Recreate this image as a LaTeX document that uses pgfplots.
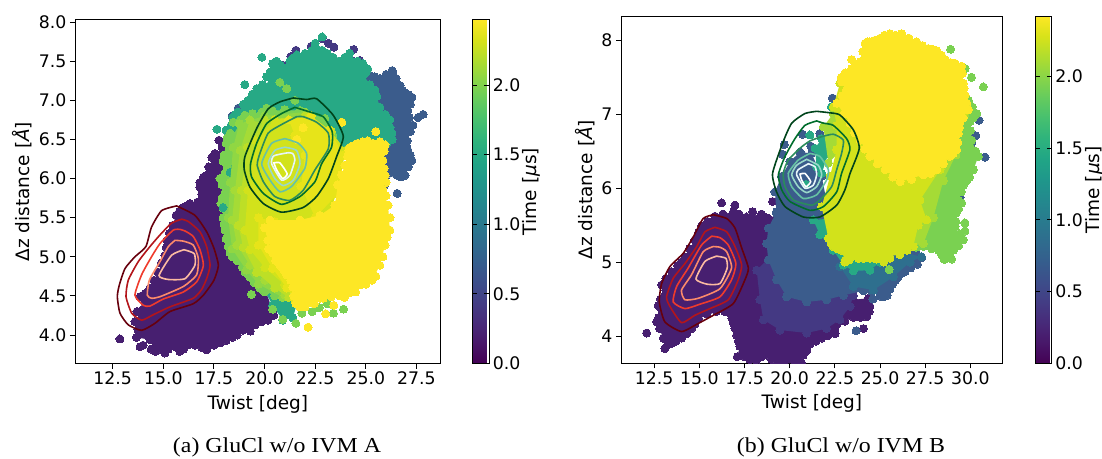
\documentclass[border=0pt]{standalone}
\usepackage{fontspec}
\setmainfont{DejaVu Sans}
\newfontfamily\capfont[FakeStretch=1.12]{Liberation Serif}
\usepackage{pgfplots}
\pgfplotsset{compat=1.18}
\definecolor{vP}{HTML}{471F70}
\definecolor{vI}{HTML}{443983}
\definecolor{vB}{HTML}{3B5C8C}
\definecolor{vM}{HTML}{2E6F8E}
\definecolor{vT}{HTML}{27A985}
\definecolor{vL}{HTML}{7AD151}
\definecolor{vLA}{HTML}{90D743}
\definecolor{vA}{HTML}{A5DB36}
\definecolor{vAC}{HTML}{BDDF26}
\definecolor{vC}{HTML}{D2E21B}
\definecolor{vE}{HTML}{E7E419}
\definecolor{vY}{HTML}{FDE725}
\definecolor{rA}{HTML}{67000D}
\definecolor{rB}{HTML}{B3151B}
\definecolor{rC}{HTML}{EF3B2C}
\definecolor{rD}{HTML}{FC8A6A}
\definecolor{rE}{HTML}{FCBBA1}
\definecolor{gA}{HTML}{00441B}
\definecolor{gB}{HTML}{006D2C}
\definecolor{gC}{HTML}{2A8C5C}
\definecolor{gD}{HTML}{66C2A4}
\definecolor{gE}{HTML}{99D8C9}
\definecolor{gF}{HTML}{E5F5F9}
\newcommand{\blob}[2]{\addplot[draw=none,fill=#1,mark=*,mark size=4pt,mark options={draw=#1,fill=#1,line width=0pt}] coordinates {#2} -- cycle;}
\newcommand{\pts}[2]{\addplot[only marks,mark=*,mark size=4pt,mark options={draw=#1,fill=#1,line width=0pt}] coordinates {#2};}
\newcommand{\cont}[2]{\addplot[draw=#1,line width=1.6pt,mark=none,smooth,tension=0.35] coordinates {#2} -- cycle;}
\newcommand{\tickfont}{\fontsize{17.3}{19}\selectfont}
\newcommand{\labfont}{\fontsize{18.5}{20}\selectfont}
\pgfplotsset{panel/.style={
  scale only axis, clip marker paths=true,
  axis line style={black,line width=0.9pt},
  tick style={black,line width=0.9pt},
  tick align=outside, major tick length=5pt,
  xtick pos=bottom, ytick pos=left,
  tick label style={font=\tickfont},
  label style={font=\labfont},
  /pgf/number format/assume math mode=true,
  /pgf/number format/fixed, /pgf/number format/fixed zerofill, /pgf/number format/precision=1,
  xlabel={Twist [deg]}, ylabel={Δz distance [{\itshape Å}]},
  xlabel style={yshift=-3pt}, ylabel style={yshift=0pt},
  colorbar, colormap/viridis, point meta min=0,
},
cbar/.style={
  ytick={0,0.5,1,1.5,2}, ylabel={Time [{\itshape μ}s]},
  scaled y ticks=false,
  yticklabel style={font=\tickfont,/pgf/number format/assume math mode=true,/pgf/number format/fixed,/pgf/number format/fixed zerofill,/pgf/number format/precision=1},
  ylabel style={font=\labfont,yshift=4.5pt},
  axis line style={black,line width=0.9pt}, tick style={black,line width=0.9pt}, yticklabel pos=right, major tick length=5pt}}
\begin{document}
\begin{tikzpicture}
\path[use as bounding box] (0,0) rectangle (1102pt,458pt);
\begin{axis}[panel, at={(75pt,94.5pt)}, anchor=south west, width=365.7pt, height=343.8pt,
  xmin=10.64, xmax=28.7, ymin=3.636, ymax=8.03,
  xtick={12.5,15,17.5,20,22.5,25,27.5}, ytick={4,4.5,5,5.5,6,6.5,7,7.5,8},
  point meta max=2.47,
  colorbar style={at={(parent axis.north east)},anchor=north west,xshift=23pt,width=17.2pt,height=343.8pt,cbar}]
\blob{vP}{(13.67,3.97)(13.85,4.13)(13.6,4.17)(13.95,4.32)(13.85,4.49)(14.34,4.6)(14.74,4.8)(15.08,5.02)(15.18,5.21)(15.45,5.4)(15.63,5.53)(15.97,5.63)(16.32,5.68)(16.7,5.7)(16.81,5.89)(16.81,5.95)(17.0,6.02)(17.45,6.08)(17.4,6.27)(17.8,6.3)(17.75,6.49)(18.2,6.49)(18.5,5.85)(19.3,5.09)(20.4,4.32)(20.17,4.19)(19.53,4.13)(18.94,4.06)(18.4,3.97)(17.8,3.9)(17.15,3.81)(16.56,3.87)(15.82,3.79)(15.43,3.87)(15.08,3.77)(14.6,3.79)(14.34,3.94)}
\pts{vP}{(12.86,3.95)(13.85,3.85)(14.6,3.83)(16.3,3.88)(16.5,3.88)(17.2,3.85)(19.3,4.05)(20.45,4.25)(13.75,4.07)(13.7,4.3)(14.1,4.53)(14.55,4.7)(14.9,4.92)(15.15,5.12)(15.3,5.3)(15.8,5.58)(16.15,5.65)(16.5,5.63)(16.9,5.8)(17.2,6.05)(17.25,6.15)(17.6,6.2)(17.55,6.32)(17.9,6.4)(14.0,3.87)(14.4,3.82)(14.85,3.82)(15.25,3.82)(15.6,3.85)(16.0,3.82)(16.25,3.88)(16.9,3.84)(17.5,3.87)(18.1,3.93)(18.65,4.0)(19.2,4.08)(19.85,4.17)(20.3,4.26)(19.9,4.35)(20.6,4.45)}
\pts{vI}{(20.9,7.45)(21.3,7.56)(21.55,7.64)(22.3,7.69)(22.84,7.79)(23.15,7.73)(23.43,7.68)(24.4,7.65)(24.3,7.51)(24.7,7.51)(24.0,7.55)}
\blob{vB}{(24.71,7.45)(25.21,7.32)(25.7,7.28)(26.34,7.36)(26.69,7.19)(26.93,7.1)(27.28,7.04)(27.08,6.87)(27.33,6.68)(26.94,6.55)(27.08,6.36)(27.28,6.23)(26.94,6.04)(26.55,6.04)(25.95,6.0)(25.45,6.11)(23.72,6.36)(23.72,7.26)}
\pts{vB}{(27.83,6.82)(27.58,6.78)(26.55,5.81)(25.9,5.9)(26.3,7.38)(18.7,6.9)(18.4,6.8)(25.0,7.38)(25.45,7.3)(26.0,7.33)(26.5,7.28)(26.8,7.13)(27.1,7.07)(27.2,6.95)(27.15,6.78)(27.2,6.6)(27.05,6.48)(27.0,6.42)(27.2,6.3)(27.1,6.15)(26.75,6.02)(26.25,6.1)(26.7,6.16)}
\blob{vT}{(20.42,7.46)(20.27,7.36)(20.37,7.26)(19.62,7.15)(19.18,7.0)(18.68,6.85)(18.44,6.78)(18.2,6.55)(18.15,6.45)(21.75,5.72)(23.72,6.36)(26.05,6.45)(26.29,6.58)(26.19,6.75)(25.7,6.91)(25.45,7.13)(24.86,7.32)(25.1,7.4)(24.86,7.47)(23.97,7.55)(23.38,7.55)(22.84,7.64)(22.5,7.73)(22.84,7.81)(22.34,7.64)(21.4,7.54)(21.1,7.42)}
\pts{vT}{(19.87,7.55)(19.03,7.2)(17.65,6.63)(24.2,7.6)(20.4,7.47)(20.1,7.3)(19.9,7.2)(19.4,7.08)(18.95,6.95)(18.55,6.82)(18.35,6.68)(18.1,6.62)(20.6,7.5)(20.8,7.45)(21.25,7.5)(21.6,7.58)(22.0,7.6)(22.55,7.65)(23.1,7.6)(23.7,7.5)(24.3,7.5)(24.6,7.5)(25.0,7.35)(24.95,7.2)(25.2,7.2)(25.55,7.05)(25.6,6.85)(25.95,6.82)(26.2,6.65)(26.3,6.5)}
\blob{vT}{(19.93,4.6)(20.4,4.38)(20.9,4.19)(21.4,4.22)(21.6,4.4)(21.0,4.6)}
\pts{vL}{(19.35,4.52)(20.4,4.33)(20.9,4.2)(21.55,4.15)(21.85,4.28)(22.35,4.3)(23.4,4.28)(23.9,4.33)(22.7,4.35)(23.1,4.4)}
\blob{vL}{(18.3,6.58)(18.1,6.45)(18.0,6.3)(18.15,6.15)(17.8,6.0)(18.15,5.89)(17.9,5.75)(17.95,5.62)(17.95,5.5)(18.05,5.34)(18.2,5.13)(18.4,5.0)(18.9,4.87)(19.28,4.74)(19.77,4.6)(20.5,4.5)(21.75,5.0)(23.7,6.3)(23.38,6.55)(22.98,6.77)(21.75,6.87)(20.37,6.87)(19.87,6.85)(19.03,6.81)(18.44,6.55)}
\pts{vL}{(18.45,6.72)(20.76,7.23)(21.1,7.15)(18.9,6.7)(21.5,7.0)(18.15,6.52)(17.95,6.22)(18.05,6.07)(17.9,5.92)(18.05,5.82)(17.85,5.68)(18.0,5.42)(18.1,5.23)(18.3,5.05)(18.65,4.95)(19.05,4.8)(19.5,4.67)(20.0,4.55)(18.8,6.75)(19.4,6.83)(20.1,6.9)(21.0,6.88)}
\pts{vT}{(17.95,5.63)(18.3,6.08)(18.55,6.15)}
\blob{vLA}{(18.75,6.7)(18.45,6.4)(18.3,5.95)(18.2,5.5)(18.4,5.1)(19.1,4.83)(19.7,4.65)(20.9,4.48)(21.7,4.6)(23.3,6.6)(22,6.85)(20,6.8)}
\blob{vA}{(19.28,6.75)(18.79,6.36)(18.54,5.85)(18.4,5.47)(18.64,5.15)(19.28,4.89)(20.02,4.7)(21.0,4.51)(21.75,4.57)(23.23,6.62)(22.24,6.77)(20.27,6.68)}
\blob{vAC}{(20,6.75)(19.15,6.4)(18.85,5.85)(18.7,5.4)(18.95,5.12)(19.6,4.8)(20.5,4.6)(21.2,4.48)(22,5)(23.3,6.6)(22,6.8)}
\blob{vC}{(20.5,6.75)(19.53,6.49)(19.18,5.85)(19.03,5.34)(19.28,5.09)(20.02,4.86)(21.0,4.64)(21.5,4.47)(22.74,5.09)(23.72,5.98)(24.0,6.36)(23.23,6.62)(22.24,6.8)}
\blob{vE}{(21.2,6.75)(22.3,6.8)(23.2,6.62)(23.9,6.3)(23.6,5.8)(22.5,5.5)(21.8,5.9)(22.0,6.3)(21.5,6.55)}
\blob{vE}{(19.7,5.5)(19.7,5.15)(20.4,4.85)(21.1,4.6)(21.5,4.45)(21.7,4.9)(20.5,5.45)}
\blob{vY}{(20.27,5.47)(20.0,5.37)(20.17,5.21)(20.4,5.05)(20.76,4.89)(21.1,4.77)(21.4,4.61)(21.6,4.45)(21.75,4.36)(22.24,4.41)(22.74,4.47)(23.08,4.54)(23.72,4.5)(24.22,4.54)(24.71,4.64)(25.3,4.7)(25.7,4.89)(25.95,5.15)(26.19,5.34)(26.1,5.66)(25.85,5.85)(25.95,6.04)(25.85,6.23)(25.6,6.36)(25.95,6.43)(25.35,6.45)(24.86,6.47)(24.6,6.45)(24.22,6.4)(23.97,6.17)(23.62,5.92)(23.47,5.66)(22.74,5.53)(21.75,5.47)}
\pts{vY}{(23.82,6.72)(25.5,6.6)(24.17,6.36)(25.9,6.35)(22.15,4.1)(23.02,4.27)(23.42,4.38)(21.6,6.5)(21.9,6.65)(21.45,4.5)(21.55,4.4)(22.0,4.36)(22.45,4.4)(22.9,4.47)(23.3,4.49)(23.95,4.48)(24.5,4.55)(25.0,4.65)(25.5,4.75)(25.85,5.0)(26.05,5.25)(26.2,5.5)(26.0,5.78)(26.0,5.95)(25.9,6.13)(25.7,6.3)(25.7,6.47)(25.1,6.48)(24.4,6.42)(24.1,6.28)(23.8,6.05)(20.3,5.3)(20.2,5.1)(20.55,4.95)(20.95,4.83)(21.3,4.7)}
\cont{rA}{(15.66,5.65)(14.92,5.59)(14.42,5.38)(14.14,5.13)(13.6,5.0)(13.11,4.85)(12.83,4.64)(12.73,4.49)(12.86,4.28)(13.27,4.13)(13.93,4.06)(14.59,4.15)(15.33,4.3)(16.48,4.4)(16.98,4.51)(17.5,4.7)(17.72,4.89)(17.5,5.11)(17.14,5.32)(16.56,5.53)(15.66,5.65)}
\cont{rB}{(15.91,5.48)(15.41,5.43)(14.84,5.28)(14.34,5.13)(13.77,4.94)(13.27,4.7)(13.16,4.49)(13.44,4.28)(13.93,4.19)(14.51,4.26)(15.33,4.36)(16.48,4.47)(16.89,4.58)(17.14,4.72)(17.31,4.89)(17.14,5.13)(16.81,5.32)(16.24,5.45)(15.91,5.48)}
\cont{rC}{(15.82,5.35)(15.49,5.34)(14.84,5.17)(14.42,5.0)(13.93,4.77)(13.6,4.51)(14.01,4.38)(14.34,4.37)(15.0,4.46)(15.99,4.55)(16.65,4.68)(16.98,4.89)(16.81,5.09)(16.48,5.26)(16.07,5.33)(15.82,5.35)}
\cont{rD}{(15.58,5.21)(15.25,5.13)(14.84,4.94)(14.31,4.7)(14.21,4.51)(14.42,4.47)(14.84,4.49)(15.99,4.62)(16.65,4.77)(16.73,4.98)(16.48,5.15)(15.99,5.2)(15.58,5.21)}
\cont{rE}{(16.02,5.09)(15.41,5.02)(14.79,4.76)(15.25,4.71)(16.07,4.72)(16.56,4.89)(16.53,5.04)(16.02,5.09)}
\cont{gA}{(21.42,7.03)(20.76,6.98)(20.18,6.89)(19.61,6.64)(19.03,6.28)(19.0,6.11)(19.28,5.89)(19.94,5.68)(20.84,5.57)(21.91,5.63)(22.57,5.77)(23.15,6.0)(23.56,6.28)(23.89,6.54)(23.39,6.81)(22.57,7.02)(22.08,7.01)(21.42,7.03)}
\cont{gB}{(21.5,6.91)(20.84,6.83)(20.1,6.7)(19.61,6.45)(19.31,6.19)(19.36,6.02)(19.94,5.81)(20.84,5.67)(21.75,5.77)(22.49,5.96)(22.82,6.19)(23.31,6.4)(23.34,6.6)(22.9,6.79)(22.24,6.85)(21.5,6.91)}
\cont{gC}{(21.58,6.79)(20.84,6.69)(20.18,6.58)(19.77,6.32)(19.64,6.17)(19.94,5.96)(20.51,5.77)(21.25,5.72)(21.91,5.85)(22.49,6.11)(23.15,6.38)(23.15,6.58)(22.57,6.72)(21.91,6.79)(21.58,6.79)}
\cont{gD}{(21.01,6.51)(20.35,6.45)(19.86,6.19)(20.27,5.98)(20.76,5.83)(21.34,5.9)(21.99,6.13)(22.08,6.32)(21.67,6.45)(21.01,6.51)}
\cont{gE}{(21.01,6.4)(20.51,6.36)(20.18,6.19)(20.51,6.0)(20.92,5.91)(21.42,5.98)(21.75,6.19)(21.58,6.36)(21.01,6.4)}
\cont{gF}{(21.17,6.33)(20.46,6.29)(20.35,6.19)(20.84,5.98)(21.25,6.04)(21.5,6.24)(21.39,6.32)(21.17,6.33)}
\cont{white}{(20.46,6.2)(20.76,6.2)(21.12,6.06)(20.89,6.0)(20.6,6.11)(20.46,6.2)}
\end{axis}
\begin{axis}[panel, at={(621pt,94.7pt)}, anchor=south west, width=381.7pt, height=347.3pt,
  xmin=10.66, xmax=31.79, ymin=3.63, ymax=8.33,
  xtick={12.5,15,17.5,20,22.5,25,27.5,30}, ytick={4,5,6,7,8},
  yticklabel style={/pgf/number format/precision=0},
  point meta max=2.42,
  colorbar style={at={(parent axis.north east)},anchor=north west,xshift=24pt,width=16.6pt,height=347.3pt,cbar}]
\blob{vP}{(13.09,3.83)(13.0,3.97)(12.63,4.19)(12.91,4.35)(12.72,4.41)(13.09,4.55)(12.91,4.69)(13.46,4.87)(14.2,5.07)(14.75,5.3)(15.12,5.49)(15.86,5.62)(16.88,5.68)(17.61,5.61)(18.44,5.65)(18.91,5.57)(19.27,5.68)(20.75,5.39)(23.52,4.49)(24.35,4.51)(24.44,4.4)(24.26,4.26)(23.52,4.25)(22.6,4.15)(22.41,4.04)(21.77,3.97)(21.12,3.89)(20.75,3.74)(20.66,3.63)(19.37,3.63)(18.72,3.74)(18.17,3.67)(17.1,3.72)(17.24,3.86)(17.06,4.01)(16.88,4.17)(16.69,4.31)(15.95,4.33)(14.94,4.23)(14.57,4.1)(14.01,3.97)(13.46,3.9)}
\pts{vP}{(12.08,4.04)(16.23,5.8)(16.97,5.77)(19.05,5.82)(18.63,3.75)(24.08,4.1)(22.51,4.03)(22.5,4.1)(12.8,4.1)(12.75,4.25)(12.85,4.5)(13.15,4.62)(13.15,4.78)(13.8,4.95)(14.0,5.0)(14.45,5.18)(14.95,5.4)(15.45,5.55)(16.3,5.65)(17.2,5.65)(17.95,5.68)(18.7,5.6)(13.25,3.88)(13.7,3.93)(14.3,4.03)(14.75,4.16)(15.4,4.3)(16.4,4.33)(16.8,4.24)(16.97,4.1)(17.15,3.93)(17.5,3.72)(17.8,3.68)(18.45,3.72)(19.0,3.68)(19.7,3.65)(20.3,3.65)(20.95,3.8)(21.45,3.93)(22.1,4.0)(22.5,4.09)(23.05,4.2)(23.9,4.25)(24.4,4.33)}
\pts{vB}{(23.67,4.07)(30.81,6.42)(30.48,6.92)(30.3,6.71)(30.07,6.61)(29.58,6.06)(29.43,5.88)(24.6,4.5)}
\blob{vI}{(18.17,4.89)(18.35,4.49)(18.54,4.22)(19.46,4.08)(20.94,4.04)(22.04,4.1)(22.78,4.22)(23.34,4.4)(23.52,4.55)(22.6,4.71)(21.67,5.16)(19.83,5.3)}
\blob{vB}{(19.27,5.68)(18.81,5.46)(18.72,5.25)(18.81,5.03)(19.27,4.76)(19.83,4.53)(20.94,4.46)(22.04,4.49)(22.97,4.55)(24.07,4.61)(24.54,4.6)(25.0,4.54)(25.4,4.55)(25.7,4.7)(26.01,4.8)(26.38,4.87)(27.07,4.97)(27.3,5.06)(26.9,5.4)(25.36,5.61)(20.75,5.84)(19.83,5.8)}
\blob{vB}{(19.18,5.95)(19.55,6.16)(20.01,6.36)(20.57,6.49)(21.21,6.47)(21.77,6.16)(22.14,5.7)(19.27,5.66)}
\pts{vB}{(20.71,6.73)(19.7,6.59)(19.59,6.46)(21.16,6.57)(21.67,6.74)(22.36,7.22)(25.2,4.53)(25.55,4.63)(25.85,4.75)(26.2,4.85)(26.7,4.92)(26.9,5.02)}
\blob{vM}{(22.78,4.94)(23.52,4.67)(24.63,4.62)(25.74,4.8)(26.66,5.0)(27.3,5.07)(25.92,5.16)(22.78,5.16)}
\blob{vT}{(21.3,5.57)(21.67,5.37)(22.41,5.16)(22.97,4.96)(23.52,4.88)(24.44,4.89)(25.0,5.0)(25.2,5.3)(23.52,5.61)}
\blob{vT}{(21.4,6.54)(21.77,6.67)(22.23,6.72)(22.14,6.47)(21.77,6.2)(21.49,6.29)}
\pts{vT}{(21.12,6.72)(20.9,6.05)(22.3,7.1)}
\blob{vL}{(29.89,7.19)(30.35,7.01)(29.98,6.9)(30.07,6.65)(30.44,6.43)(30.17,6.25)(29.61,6.04)(29.34,5.84)(29.52,5.8)(29.21,5.66)(29.15,5.48)(29.61,5.3)(29.06,5.16)(28.6,5.04)(28.23,5.16)(27.4,5.21)(26.48,5.21)(25.92,5.16)(25,6.3)(29.61,7.28)}
\pts{vL}{(30.72,7.37)(30.06,7.5)(29.71,7.62)(28.91,7.88)(29.7,5.53)(29.7,5.42)(28.97,5.04)(28.54,5.04)(25.5,4.9)(30.1,7.1)(30.15,6.95)(30.0,6.78)(30.3,6.5)(29.95,6.15)(29.8,6.1)(29.5,5.95)(29.35,5.72)(29.2,5.55)(29.4,5.38)(29.35,5.22)(28.85,5.1)(28.4,5.1)(27.85,5.18)(27.0,5.2)}
\blob{vA}{(21.86,6.83)(22.41,7.01)(22.97,6.88)(22.87,6.52)(22.14,6.34)}
\blob{vA}{(26.4,5.2)(27.4,5.25)(27.95,5.6)(28.5,6.1)(29.2,6.45)(29.7,7.0)(28,7)(26.5,6.0)}
\blob{vC}{(22.14,5.32)(22.41,5.21)(22.87,5.16)(23.06,5.02)(23.52,5.1)(24.44,5.05)(25.18,5.07)(26.1,5.1)(26.84,5.21)(27.12,5.5)(27.58,5.57)(27.21,5.84)(28.32,6.25)(29.06,6.52)(29.61,7.01)(27.77,7.64)(24.45,7.96)(23.34,7.55)(22.78,7.42)(22.41,7.1)(22.6,6.85)(22.6,6.52)(22.23,6.16)(21.77,5.75)}
\pts{vC}{(22.3,5.25)(22.65,5.18)(23.3,5.03)(23.05,5.0)(23.8,5.05)(24.1,5.05)(24.8,5.04)(25.55,5.05)(25.2,5.0)(26.5,5.16)}
\blob{vY}{(23.89,7.71)(24.17,7.96)(24.44,7.98)(25.0,8.03)(25.55,8.09)(26.2,8.09)(27.03,7.98)(27.67,7.89)(28.14,7.86)(28.6,7.74)(29.15,7.69)(29.52,7.65)(29.61,7.42)(29.71,7.26)(29.89,7.06)(29.43,6.9)(29.34,6.74)(29.24,6.52)(28.87,6.43)(28.14,6.25)(27.4,6.18)(26.11,6.09)(25.28,6.25)(24.44,6.43)(23.89,6.65)(23.34,6.88)(22.6,7.15)(23.15,7.33)(22.87,7.44)(23.06,7.56)(23.43,7.62)(23.43,7.74)}
\pts{vY}{(24.05,7.85)(24.3,7.98)(24.7,8.0)(25.25,8.07)(25.85,8.07)(26.6,8.03)(27.35,7.93)(27.9,7.88)(28.4,7.8)(28.9,7.7)(29.3,7.65)(29.55,7.55)(29.65,7.35)(29.8,7.15)(29.6,6.95)(29.4,6.82)(29.3,6.62)(29.05,6.47)(28.5,6.33)(27.8,6.2)(26.75,6.12)(25.7,6.15)(24.85,6.33)(24.15,6.53)(23.6,6.75)(23.0,7.0)(22.9,7.25)(23.25,7.5)(22.85,7.5)}
\cont{rA}{(15.77,5.64)(15.21,5.59)(14.66,5.34)(14.11,5.12)(13.37,4.94)(12.91,4.71)(12.78,4.46)(13.09,4.19)(14.01,4.06)(14.94,4.17)(15.77,4.28)(16.88,4.44)(17.52,4.76)(17.71,4.92)(17.34,5.19)(16.97,5.46)(16.51,5.59)(15.77,5.64)}
\cont{rB}{(15.86,5.47)(15.31,5.41)(14.85,5.21)(14.2,4.98)(13.55,4.78)(13.18,4.53)(13.37,4.4)(14.01,4.18)(14.75,4.28)(15.58,4.37)(16.6,4.49)(17.15,4.76)(17.34,4.96)(16.97,5.21)(16.51,5.41)(15.86,5.47)}
\cont{rC}{(15.68,5.35)(15.12,5.23)(14.38,4.92)(13.74,4.67)(13.55,4.46)(14.2,4.37)(15.03,4.43)(16.14,4.53)(16.78,4.76)(17.02,4.98)(16.6,5.23)(16.14,5.33)(15.68,5.35)}
\cont{rD}{(15.77,5.21)(15.21,5.14)(14.57,4.83)(14.01,4.62)(14.2,4.49)(14.94,4.51)(16.14,4.64)(16.78,4.92)(16.51,5.14)(16.14,5.2)(15.77,5.21)}
\cont{rE}{(15.95,5.08)(15.31,5.01)(14.81,4.77)(15.44,4.7)(16.14,4.71)(16.54,4.92)(16.47,5.05)(15.95,5.08)}
\cont{gA}{(21.49,7.04)(20.84,7.01)(20.11,6.88)(19.64,6.63)(19.05,6.2)(19.27,5.95)(19.74,5.75)(20.75,5.61)(21.67,5.61)(22.6,5.77)(23.06,5.98)(23.34,6.2)(23.85,6.54)(23.52,6.79)(22.78,6.99)(22.23,7.02)(21.49,7.04)}
\cont{gB}{(21.49,6.91)(20.84,6.85)(20.29,6.67)(19.74,6.43)(19.37,6.18)(19.55,5.98)(20.01,5.82)(21.12,5.7)(21.86,5.75)(22.6,5.95)(22.87,6.2)(23.33,6.52)(23.15,6.67)(22.41,6.85)(21.86,6.88)(21.49,6.91)}
\cont{gC}{(21.12,6.64)(20.66,6.56)(19.92,6.38)(19.64,6.2)(19.74,6.02)(20.2,5.84)(21.21,5.77)(21.67,5.84)(22.32,6.02)(22.6,6.25)(22.87,6.47)(22.97,6.65)(22.41,6.73)(21.67,6.69)(21.12,6.64)}
\cont{gD}{(21.12,6.47)(20.47,6.38)(19.92,6.2)(20.11,6.02)(20.75,5.86)(21.49,5.91)(22.04,6.11)(22.14,6.25)(21.67,6.43)(21.12,6.47)}
\cont{gE}{(20.94,6.39)(20.38,6.31)(20.11,6.18)(20.47,6.02)(20.94,5.94)(21.49,6.02)(21.77,6.18)(21.58,6.31)(20.94,6.39)}
\cont{gF}{(21.03,6.33)(20.47,6.25)(20.38,6.18)(20.84,6.0)(21.3,6.04)(21.49,6.18)(21.4,6.29)(21.03,6.33)}
\cont{white}{(20.57,6.19)(20.84,6.2)(21.16,6.09)(20.9,6.02)(20.66,6.11)(20.57,6.19)}
\end{axis}
\node[font=\capfont\fontsize{21.3}{23}\selectfont,anchor=base] at (277pt,5.5pt) {(a) GluCl w/o IVM A};
\node[font=\capfont\fontsize{21.3}{23}\selectfont,anchor=base] at (841pt,5.5pt) {(b) GluCl w/o IVM B};
\end{tikzpicture}
\end{document}
